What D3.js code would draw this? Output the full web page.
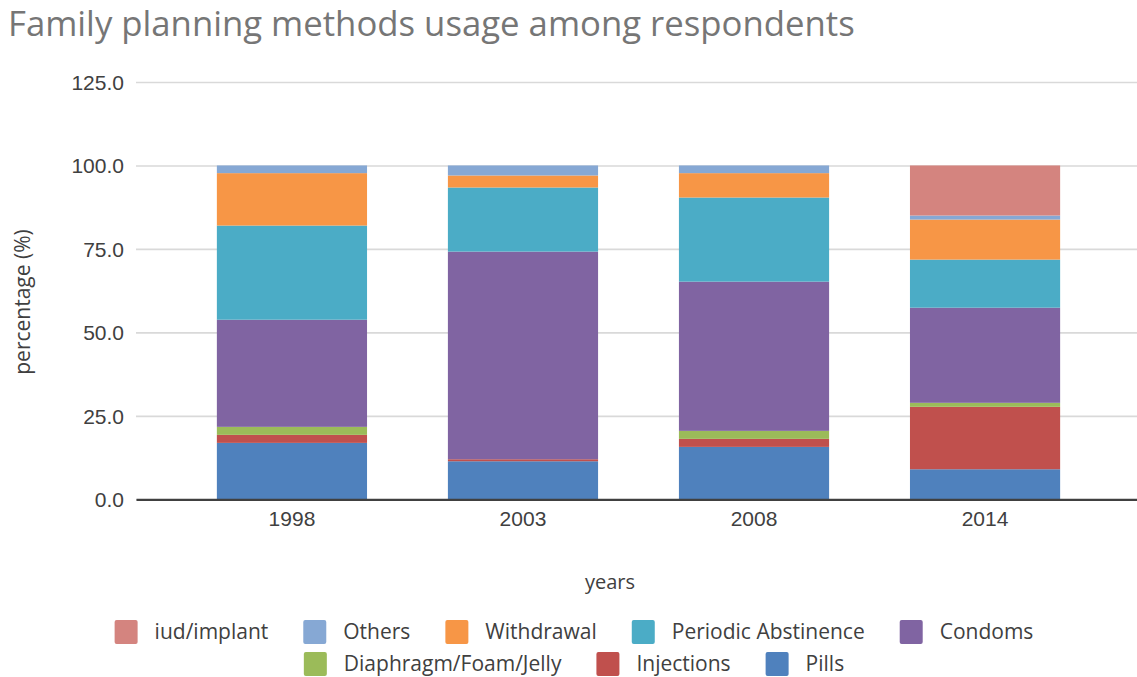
<!DOCTYPE html>
<html>
<head>
<meta charset="utf-8">
<script src="https://cdn.jsdelivr.net/npm/d3@7"></script>
<style>
  html, body { margin: 0; padding: 0; background: #fff; }
  svg { display: block; font-family: "Open Sans", "Noto Sans", sans-serif; }
</style>
</head>
<body>
<svg id="chart" width="1137" height="677"></svg>
<script>
// Survey years on the category axis
const years = ["1998", "2003", "2008", "2014"];

// Share of respondents per method (percent), stacked bottom to top
const pills       = [16.9, 11.4, 15.7, 9.0];
const injections  = [2.4, 0.6, 2.4, 18.7];
const diaphragm   = [2.4, 0.0, 2.4, 1.2];
const condoms     = [32.1, 62.2, 44.7, 28.5];
const abstinence  = [28.2, 19.2, 25.2, 14.4];
const withdrawal  = [15.7, 3.6, 7.3, 12.0];
const others      = [2.3, 3.0, 2.3, 1.2];
const iudImplant  = [0.0, 0.0, 0.0, 15.0];

const yTicks = [0, 25, 50, 75, 100, 125];

const seriesNames = ["Pills", "Injections", "Diaphragm/Foam/Jelly", "Condoms",
                     "Periodic Abstinence", "Withdrawal", "Others", "iud/implant"];
const seriesValues = [pills, injections, diaphragm, condoms, abstinence, withdrawal, others, iudImplant];
const seriesColors = ["#4f81bd", "#c0504d", "#9bbb59", "#8064a2",
                      "#4bacc6", "#f79646", "#86a8d4", "#d4847f"];

const legendRows = [
  ["iud/implant", "Others", "Withdrawal", "Periodic Abstinence", "Condoms"],
  ["Diaphragm/Foam/Jelly", "Injections", "Pills"]
];

const rows = years.map((y, i) => {
  const r = { year: y };
  seriesNames.forEach((s, k) => { r[s] = seriesValues[k][i]; });
  return r;
});

const svg = d3.select("#chart");
const margin = { left: 136, right: -4, top: 82, bottom: 178 };
const W = 1137, H = 677;

const x = d3.scaleBand()
  .domain(years)
  .range([margin.left, W - margin.right])
  .paddingInner(0.35)
  .paddingOuter(0.35);

const y = d3.scaleLinear()
  .domain([0, 125])
  .range([H - margin.bottom + 0.3, margin.top]);

// Title
const title = svg.append("text")
  .attr("x", 8)
  .attr("y", 36)
  .attr("fill", "#767676")
  .style("font-size", "30px")
  .text("Family planning methods usage among respondents");
const tw = title.node().getComputedTextLength();
title.style("font-size", (30 * 847 / tw).toFixed(2) + "px");

// Gridlines and y tick labels
const yAxis = d3.axisLeft(y)
  .tickValues(yTicks)
  .tickSize(-(W - margin.left))
  .tickPadding(12)
  .tickFormat(d3.format(".1f"));

const gy = svg.append("g")
  .attr("transform", `translate(${margin.left},0)`)
  .call(yAxis);
gy.select(".domain").remove();
gy.selectAll(".tick line").attr("stroke", "#d9d9d9").attr("stroke-width", 1.6);
gy.selectAll(".tick text")
  .attr("fill", "#404040")
  .style("font-size", "21px")
  .attr("dy", "0.35em");

// Stacked bars
const stack = d3.stack().keys(seriesNames);
const layers = stack(rows);

svg.append("g")
  .selectAll("g")
  .data(layers)
  .join("g")
  .attr("fill", (d, i) => seriesColors[i])
  .selectAll("rect")
  .data(d => d)
  .join("rect")
  .attr("x", d => x(d.data.year))
  .attr("width", x.bandwidth())
  .attr("y", d => y(d[1]))
  .attr("height", d => Math.max(0, y(d[0]) - y(d[1])));

// Category axis
const xAxis = d3.axisBottom(x).tickSize(0).tickPadding(12);
const gx = svg.append("g")
  .attr("transform", `translate(0,${y(0)})`)
  .call(xAxis);
gx.select(".domain").attr("stroke", "#404040").attr("stroke-width", 2.2);
gx.selectAll(".tick text")
  .attr("fill", "#404040")
  .style("font-size", "21px");

// Axis titles
svg.append("text")
  .attr("transform", "translate(30,302) rotate(-90)")
  .attr("text-anchor", "middle")
  .attr("fill", "#404040")
  .style("font-size", "21px")
  .text("percentage (%)");

svg.append("text")
  .attr("x", 610)
  .attr("y", 589)
  .attr("text-anchor", "middle")
  .attr("fill", "#404040")
  .style("font-size", "20px")
  .text("years");

// Legend
const colorOf = d3.scaleOrdinal().domain(seriesNames).range(seriesColors);
const legend = svg.append("g");
const rowY = [632, 664];
const sw = 23, sh = 24, gapText = 17, gapItem = 35;
legendRows.forEach((names, ri) => {
  const row = legend.append("g");
  let cx = 0;
  names.forEach(n => {
    const item = row.append("g").attr("transform", `translate(${cx},0)`);
    item.append("rect")
      .attr("x", 0).attr("y", -sh / 2)
      .attr("width", sw).attr("height", sh)
      .attr("rx", 2)
      .attr("fill", colorOf(n));
    const t = item.append("text")
      .attr("x", sw + gapText)
      .attr("dy", "0.35em")
      .attr("fill", "#404040")
      .style("font-size", "21px")
      .text(n);
    cx += sw + gapText + t.node().getComputedTextLength() + gapItem;
  });
  const total = cx - gapItem;
  row.attr("transform", `translate(${574 - total / 2},${rowY[ri]})`);
});
</script>
</body>
</html>
